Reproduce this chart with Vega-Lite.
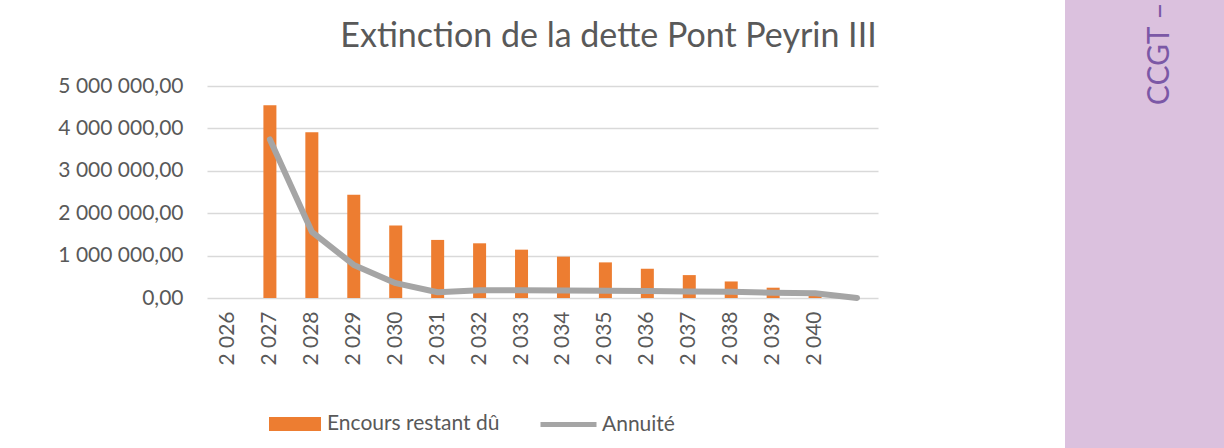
{
  "$schema": "https://vega.github.io/schema/vega-lite/v6.json",
  "background": "white",
  "padding": {"left": 57, "top": 0, "right": 0, "bottom": 0},
  "spacing": 55,
  "config": {
    "font": "Lato",
    "view": {"stroke": null},
    "axis": {"labelFont": "Lato", "labelColor": "#595959", "labelFontSize": 21},
    "legend": {"labelFont": "Lato", "labelColor": "#595959", "labelFontSize": 21, "labelLimit": 400}
  },
  "hconcat": [
    {
      "vconcat": [
        {
          "width": 803,
          "height": 74,
          "data": {"values": [{"titre": "Extinction de la dette Pont Peyrin III"}]},
          "mark": {"type": "text", "fontSize": 34, "color": "#595959", "font": "Lato"},
          "encoding": {"text": {"field": "titre", "type": "nominal"}}
        },
        {
          "width": 671,
          "height": 212,
          "data": {
            "values": [
              {"annee": 2026, "encours": null, "annuite": null},
              {"annee": 2027, "encours": 4545000, "annuite": 3740000},
              {"annee": 2028, "encours": 3910000, "annuite": 1560000},
              {"annee": 2029, "encours": 2436000, "annuite": 780000},
              {"annee": 2030, "encours": 1710000, "annuite": 350000},
              {"annee": 2031, "encours": 1370000, "annuite": 135000},
              {"annee": 2032, "encours": 1290000, "annuite": 185000},
              {"annee": 2033, "encours": 1140000, "annuite": 185000},
              {"annee": 2034, "encours": 975000, "annuite": 175000},
              {"annee": 2035, "encours": 840000, "annuite": 170000},
              {"annee": 2036, "encours": 690000, "annuite": 165000},
              {"annee": 2037, "encours": 540000, "annuite": 155000},
              {"annee": 2038, "encours": 390000, "annuite": 145000},
              {"annee": 2039, "encours": 243000, "annuite": 125000},
              {"annee": 2040, "encours": 100000, "annuite": 110000},
              {"annee": 2041, "encours": null, "annuite": 0}
            ]
          },
          "encoding": {
            "x": {
              "field": "annee",
              "type": "ordinal",
              "scale": {
                "domain": [2026, 2027, 2028, 2029, 2030, 2031, 2032, 2033, 2034, 2035, 2036, 2037, 2038, 2039, 2040, 2041],
                "paddingInner": 0.69,
                "paddingOuter": 0.345
              },
              "axis": {
                "title": null,
                "labelAngle": 270,
                "labelExpr": "datum.value == 2041 ? '' : '2 ' + substring(toString(datum.value), 1)",
                "domain": false,
                "ticks": false,
                "labelPadding": 13
              }
            }
          },
          "layer": [
            {
              "mark": {"type": "bar"},
              "encoding": {
                "y": {
                  "field": "encours",
                  "type": "quantitative",
                  "scale": {"domain": [0, 5000000]},
                  "axis": {
                    "title": null,
                    "values": [0, 1000000, 2000000, 3000000, 4000000, 5000000],
                    "labelExpr": "replace(replace(format(datum.value, ',.2f'), regexp(',', 'g'), ' '), '.', ',')",
                    "domain": false,
                    "ticks": false,
                    "labelPadding": 24,
                    "gridColor": "#D9D9D9",
                    "gridWidth": 1.5
                  }
                },
                "fill": {
                  "datum": "Encours restant dû",
                  "type": "nominal",
                  "scale": {"range": ["#ED7D31"]},
                  "legend": {
                    "orient": "none",
                    "legendX": 62,
                    "legendY": 398,
                    "title": null,
                    "symbolType": "M-1,-0.27H1V0.27H-1Z",
                    "symbolSize": 2704,
                    "symbolStrokeWidth": 0,
                    "labelOffset": 6
                  }
                }
              }
            },
            {
              "mark": {"type": "line", "strokeWidth": 6, "strokeCap": "round", "strokeJoin": "round"},
              "encoding": {
                "y": {"field": "annuite", "type": "quantitative"},
                "stroke": {
                  "datum": "Annuité",
                  "type": "nominal",
                  "scale": {"range": ["#A5A5A5"]},
                  "legend": {
                    "orient": "none",
                    "legendX": 331,
                    "legendY": 394,
                    "title": null,
                    "symbolType": "stroke",
                    "symbolSize": 3136,
                    "symbolStrokeWidth": 5,
                    "labelOffset": 3
                  }
                }
              }
            }
          ]
        }
      ],
      "spacing": 12,
      "bounds": "flush"
    },
    {
      "width": 159,
      "height": 448,
      "view": {"fill": "#DBC1DE", "stroke": null},
      "data": {"values": [{"texte": "CCGT –"}]},
      "mark": {"type": "text", "fontSize": 30, "font": "Lato", "color": "#7B58A6", "angle": 270, "align": "right", "baseline": "middle"},
      "encoding": {
        "text": {"field": "texte", "type": "nominal"},
        "x": {"datum": 0.6, "type": "quantitative", "scale": {"domain": [0, 1]}, "axis": null},
        "y": {"datum": 0.995, "type": "quantitative", "scale": {"domain": [0, 1]}, "axis": null}
      }
    }
  ]
}
